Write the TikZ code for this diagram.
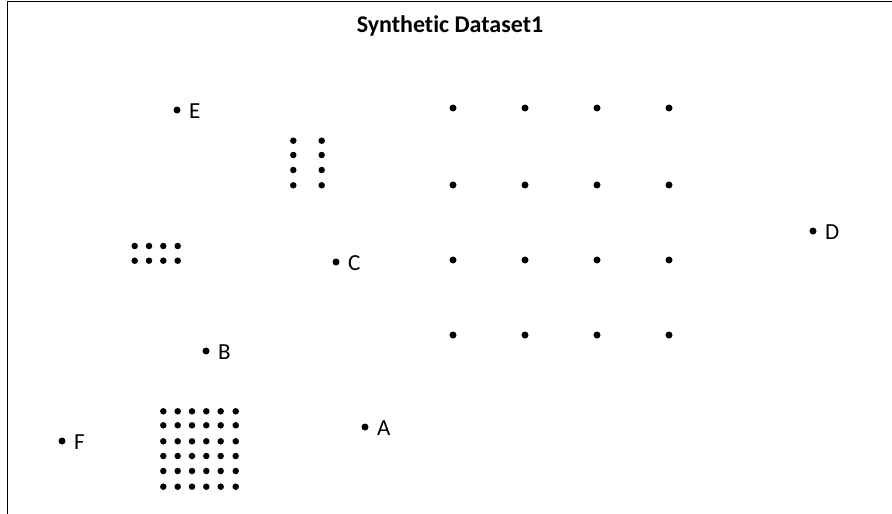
\documentclass[tikz,border=0pt]{standalone}
\usepackage{fontspec}
\setmainfont{Carlito}[Ligatures=CommonOff]
\begin{document}
\begin{tikzpicture}[x=1pt,y=1pt,
  dot/.style={circle,fill=black,inner sep=0pt,minimum size=7pt},
  sdot/.style={circle,fill=black,inner sep=0pt,minimum size=6.5pt},
  lbl/.style={anchor=west,inner sep=0pt,font=\fontsize{23}{23}\selectfont},
  frame/.style={line width=1.5pt}]
\useasboundingbox (0,0) rectangle (892,-514);
\fill[white] (0,0) rectangle (892,-514);
\coordinate (tl) at (7.5,-1.5);
\coordinate (tr) at (892,-1.5);
\coordinate (bl) at (7.5,-514);
\draw[frame] (bl) -- (tl) -- (tr);
\node[font=\bfseries\fontsize{24}{24}\selectfont] (title) at (450,-26) {Synthetic Dataset1};
% labelled points
\foreach \n/\x/\y in {E/177/110, D/813/231, C/336/262, B/206/351, A/365/427, F/62/441} {
  \node[dot] (\n) at (\x,-\y) {};
  \node[lbl] (l\n) at ([xshift=12pt,yshift=-1.5pt]\n.center) {\n};
}
% 4x4 grid
\foreach \x [count=\i] in {453,525,597,669} {
  \foreach \y [count=\j] in {108,185,260,335} {
    \node[dot] (g\i\j) at (\x,-\y) {};
  }
}
% 2x4 vertical cluster
\foreach \x [count=\i] in {293.3,321.7} {
  \foreach \y [count=\j] in {140.7,155,170,185.3} {
    \node[sdot] (v\i\j) at (\x,-\y) {};
  }
}
% 4x2 horizontal cluster
\foreach \x [count=\i] in {134.7,149,163.3,177.7} {
  \foreach \y [count=\j] in {246,260.7} {
    \node[sdot] (h\i\j) at (\x,-\y) {};
  }
}
% 6x6 cluster
\foreach \x [count=\i] in {163.3,177.7,192,206.3,220.7,235.7} {
  \foreach \y [count=\j] in {411.3,425.3,441.3,456,471,486.7} {
    \node[sdot] (s\i\j) at (\x,-\y) {};
  }
}
\end{tikzpicture}
\end{document}
